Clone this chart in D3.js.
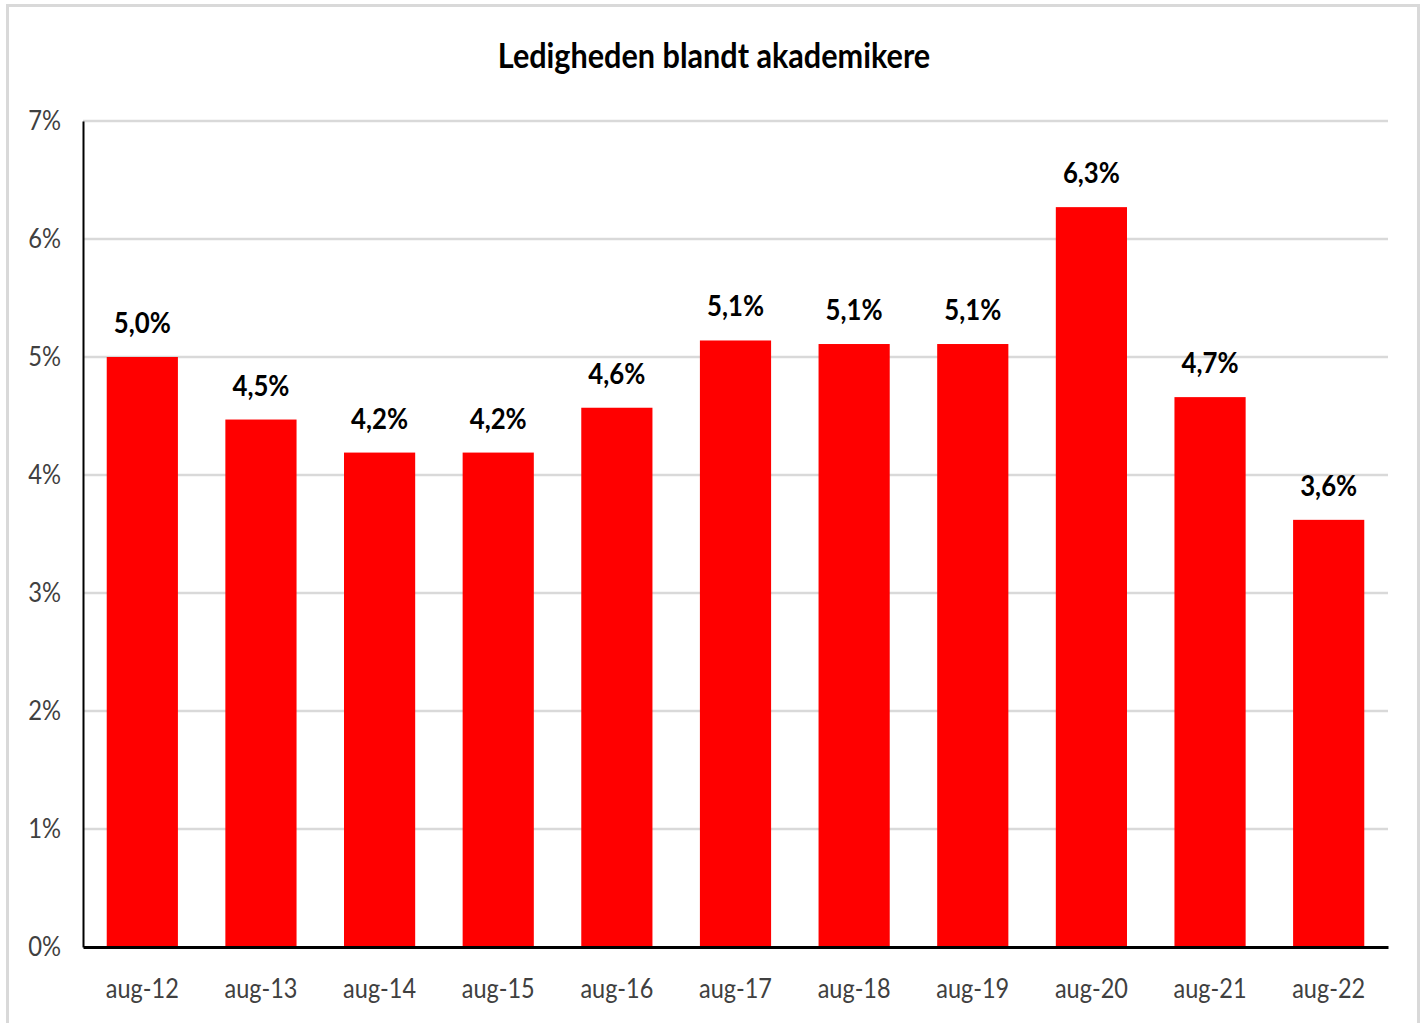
<!DOCTYPE html>
<html lang="da">
<head>
<meta charset="utf-8">
<title>Ledigheden blandt akademikere</title>
<script src="https://cdn.jsdelivr.net/npm/d3@7"></script>
<style>
body{margin:0;background:#fff;}
svg{display:block;font-family:Lato,"Open Sans",sans-serif;}
</style>
</head>
<body>
<div id="chart"></div>
<script>
// data
var months = ["aug-12","aug-13","aug-14","aug-15","aug-16","aug-17","aug-18","aug-19","aug-20","aug-21","aug-22"];
var rates = [5.0, 4.47, 4.19, 4.19, 4.57, 5.14, 5.11, 5.11, 6.27, 4.66, 3.62];
var rateLabels = ["5,0%","4,5%","4,2%","4,2%","4,6%","5,1%","5,1%","5,1%","6,3%","4,7%","3,6%"];
var yTicks = [0,1,2,3,4,5,6,7];
var title = "Ledigheden blandt akademikere";

var width = 1424, height = 1023;
var margin = {top:121, right:36, bottom:76, left:83};

var svg = d3.select("#chart").append("svg")
    .attr("width", width)
    .attr("height", height);

// outer frame (bottom edge runs off the picture)
svg.append("rect")
    .attr("x", 7.5).attr("y", 5.5)
    .attr("width", 1411).attr("height", 1030)
    .attr("fill", "#fff")
    .attr("stroke", "#d9d9d9")
    .attr("stroke-width", 3);

var x = d3.scaleBand()
    .domain(months)
    .range([margin.left, width - margin.right])
    .paddingInner(0.4)
    .paddingOuter(0.2);

var y = d3.scaleLinear()
    .domain([0, 7])
    .range([height - margin.bottom, margin.top]);

// squeeze text horizontally a bit, the original font is narrow
function condense(sel, k){
  sel.each(function(){
    var w = this.getComputedTextLength();
    d3.select(this).attr("textLength", w*k).attr("lengthAdjust","spacingAndGlyphs");
  });
}

// gridlines
svg.append("g")
  .selectAll("line")
  .data(yTicks.filter(function(d){ return d > 0; }))
  .enter().append("line")
    .attr("x1", margin.left)
    .attr("x2", width - margin.right)
    .attr("y1", function(d){ return y(d); })
    .attr("y2", function(d){ return y(d); })
    .attr("stroke", "#d9d9d9")
    .attr("stroke-width", 2.5);

// y axis
var yAxis = svg.append("g")
    .attr("transform", "translate(" + margin.left + ",0)")
    .call(d3.axisLeft(y).tickValues(yTicks).tickSize(0).tickPadding(22)
      .tickFormat(function(d){ return d + "%"; }));
yAxis.select(".domain").attr("stroke", "#000").attr("stroke-width", 2);
yAxis.selectAll("text")
    .attr("font-size", 27)
    .attr("font-family", "Lato, sans-serif")
    .attr("fill", "#404040")
    .call(condense, 0.88);

// bars
svg.append("g")
  .selectAll("rect")
  .data(rates)
  .enter().append("rect")
    .attr("x", function(d,i){ return x(months[i]); })
    .attr("y", function(d){ return y(d); })
    .attr("width", x.bandwidth())
    .attr("height", function(d){ return y(0) - y(d); })
    .attr("fill", "#ff0000");

// value labels
svg.append("g")
  .selectAll("text")
  .data(rates)
  .enter().append("text")
    .attr("x", function(d,i){ return x(months[i]) + x.bandwidth()/2; })
    .attr("y", function(d){ return y(d) - 24; })
    .attr("text-anchor", "middle")
    .attr("font-size", 28)
    .attr("font-weight", "bold")
    .attr("fill", "#000")
    .text(function(d,i){ return rateLabels[i]; })
    .call(condense, 0.92);

// x axis
var xAxis = svg.append("g")
    .attr("transform", "translate(0," + y(0) + ")")
    .call(d3.axisBottom(x).tickSize(0).tickPadding(32));
xAxis.select(".domain").attr("stroke", "#000").attr("stroke-width", 3);
xAxis.selectAll("text")
    .attr("font-size", 27)
    .attr("font-family", "Lato, sans-serif")
    .attr("fill", "#404040")
    .call(condense, 0.87);

// title
svg.append("text")
    .attr("x", 714)
    .attr("y", 68)
    .attr("text-anchor", "middle")
    .attr("font-size", 34)
    .attr("font-weight", "bold")
    .attr("fill", "#000")
    .text(title)
    .call(condense, 0.9);
</script>
</body>
</html>
